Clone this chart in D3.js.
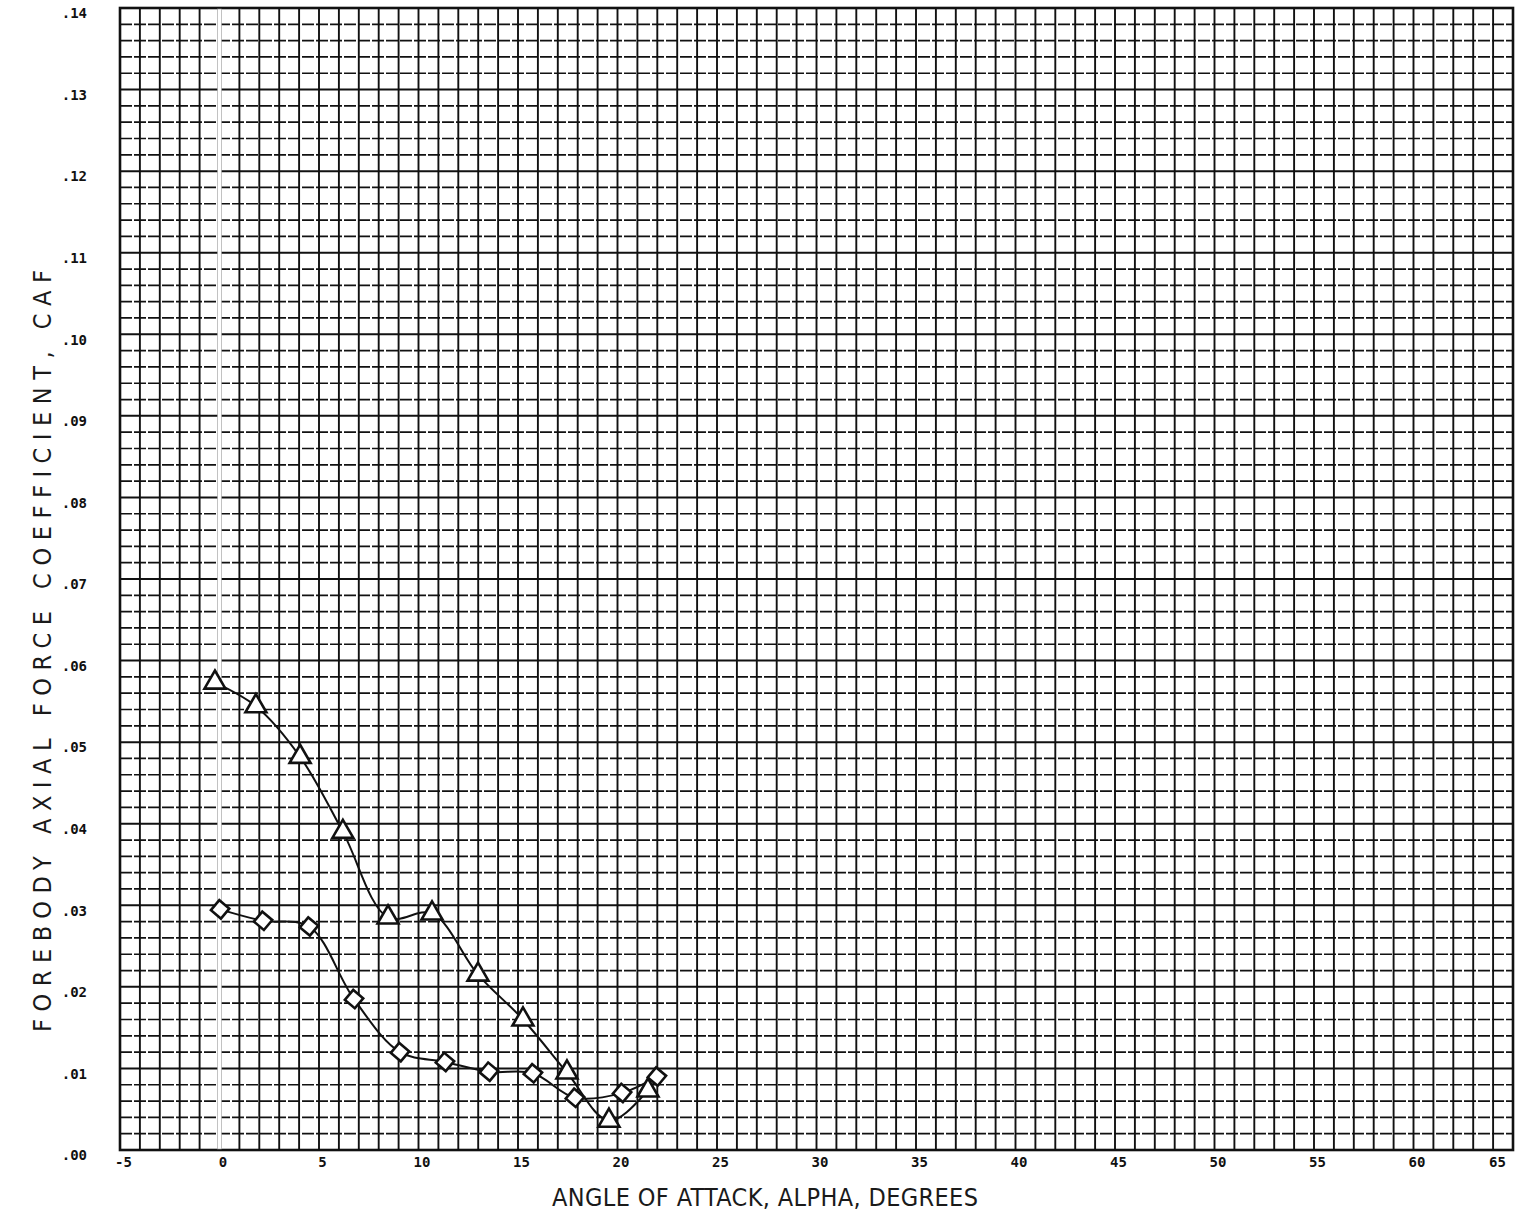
<!DOCTYPE html>
<html>
<head>
<meta charset="utf-8">
<script src="https://cdn.jsdelivr.net/npm/d3@7"></script>
<style>
  html, body { margin: 0; padding: 0; background: #fff; }
  svg { display: block; }
</style>
</head>
<body>
<svg id="chart" width="1518" height="1213"></svg>
<script>
// ---- data ----
const triAlpha = [-0.23, 1.83, 4.05, 6.2, 8.47, 10.68, 12.99, 15.25, 17.46, 19.57, 21.53, 22.0];
const triCAF   = [0.0573, 0.0544, 0.0482, 0.0390, 0.0285, 0.0290, 0.0215, 0.0160, 0.0095, 0.0036, 0.0073, 0.0089];
const diaAlpha = [0.03, 2.19, 4.5, 6.76, 9.07, 11.33, 13.54, 15.75, 17.86, 20.23, 21.98];
const diaCAF   = [0.0295, 0.0281, 0.0274, 0.0185, 0.0120, 0.0108, 0.0096, 0.0094, 0.0064, 0.0070, 0.0090];
const xTickValues = [-5, 0, 5, 10, 15, 20, 25, 30, 35, 40, 45, 50, 55, 60, 65];
const xTickLabels = ["-5", "0", "5", "10", "15", "20", "25", "30", "35", "40", "45", "50", "55", "60", "65"];
const yTickValues = [0, 0.01, 0.02, 0.03, 0.04, 0.05, 0.06, 0.07, 0.08, 0.09, 0.10, 0.11, 0.12, 0.13, 0.14];
const yTickLabels = [".00", ".01", ".02", ".03", ".04", ".05", ".06", ".07", ".08", ".09", ".10", ".11", ".12", ".13", ".14"];
const xTitle = "ANGLE OF ATTACK, ALPHA, DEGREES";
const yTitle = "FOREBODY AXIAL FORCE COEFFICIENT, CAF";

const svg = d3.select("#chart");
const L = 120, R = 1513, T = 8, B = 1150;
const x = d3.scaleLinear().domain([-5, 65]).range([L, R]);
const y = d3.scaleLinear().domain([0, 0.14]).range([B, T]);

// ---- grid ----
const grid = svg.append("g");
const vLines = d3.range(-5, 66, 1);
grid.selectAll("line.v").data(vLines).enter().append("line")
  .attr("x1", d => x(d)).attr("x2", d => x(d))
  .attr("y1", y(0.14)).attr("y2", y(0))
  .attr("stroke", "#111").attr("stroke-width", 1.9);
const hLines = d3.range(0, 71, 1).map(i => i * 0.002);
grid.selectAll("line.h").data(hLines).enter().append("line")
  .attr("x1", x(-5)).attr("x2", x(65))
  .attr("y1", d => y(d)).attr("y2", d => y(d))
  .attr("stroke", "#111")
  .attr("stroke-width", (d, i) => i % 5 === 0 ? 2.0 : 1.7)
  .attr("stroke-dasharray", (d, i) => i % 5 === 0 ? null : "12 2");
// border
grid.append("rect")
  .attr("x", x(-5)).attr("y", y(0.14))
  .attr("width", x(65) - x(-5)).attr("height", y(0) - y(0.14))
  .attr("fill", "none").attr("stroke", "#111").attr("stroke-width", 2.6);
// zero line (white band with faint edges)
grid.append("rect")
  .attr("x", x(0) - 2).attr("y", y(0.14) + 1)
  .attr("width", 4).attr("height", y(0) - y(0.14) - 2)
  .attr("fill", "#fff").attr("stroke", "#999").attr("stroke-width", 0.6);

// ---- axes (labels only) ----
const xAxis = d3.axisBottom(x).tickValues(xTickValues).tickSize(0)
  .tickFormat((d, i) => xTickLabels[i]);
const gx = svg.append("g").attr("transform", `translate(0,${B})`).call(xAxis);
gx.select(".domain").remove();
gx.selectAll("text").attr("dy", "1.0em")
  .attr("dx", (d, i) => i === xTickValues.length - 1 ? -16 : 3)
  .style("font-family", "'DejaVu Sans Mono', monospace").style("font-weight", "bold")
  .style("font-size", "14px").attr("fill", "#111");

const yAxis = d3.axisLeft(y).tickValues(yTickValues).tickSize(0)
  .tickFormat((d, i) => yTickLabels[i]);
const gy = svg.append("g").attr("transform", `translate(${L - 30},0)`).call(yAxis);
gy.select(".domain").remove();
gy.selectAll("text").attr("dy", "0.7em")
  .style("font-family", "'DejaVu Sans Mono', monospace").style("font-weight", "bold")
  .style("font-size", "14px").attr("fill", "#111");

// ---- axis titles ----
const titleFont = "'DejaVu Sans Condensed', 'DejaVu Sans', sans-serif";
svg.append("text")
  .attr("x", 552).attr("y", 1206)
  .attr("textLength", 426).attr("lengthAdjust", "spacing")
  .style("font-family", titleFont).style("font-stretch", "condensed").style("font-size", "25px")
  .attr("fill", "#1a1a1a").text(xTitle);
svg.append("text")
  .attr("transform", "translate(51,1032) rotate(-90)")
  .attr("textLength", 762).attr("lengthAdjust", "spacing")
  .style("font-family", titleFont).style("font-stretch", "condensed").style("font-size", "25px")
  .attr("fill", "#1a1a1a").text(yTitle);

// ---- series ----
const line = d3.line().x(d => x(d[0])).y(d => y(d[1])).curve(d3.curveCatmullRom.alpha(0.5));
const triData = triAlpha.map((a, i) => [a, triCAF[i]]);
const diaData = diaAlpha.map((a, i) => [a, diaCAF[i]]);

svg.append("path").datum(triData).attr("d", line)
  .attr("fill", "none").attr("stroke", "#111").attr("stroke-width", 2);
svg.append("path").datum(diaData).attr("d", line)
  .attr("fill", "none").attr("stroke", "#111").attr("stroke-width", 2);

const triSym = d3.symbol().type(d3.symbolTriangle).size(190);
svg.append("g").selectAll("path").data(triData.slice(0, 11)).enter().append("path")
  .attr("d", triSym)
  .attr("transform", d => `translate(${x(d[0])},${y(d[1])})`)
  .attr("fill", "#fff").attr("stroke", "#111").attr("stroke-width", 2.6);

const sqSym = d3.symbol().type(d3.symbolSquare).size(170);
svg.append("g").selectAll("path").data(diaData).enter().append("path")
  .attr("d", sqSym)
  .attr("transform", d => `translate(${x(d[0])},${y(d[1])}) rotate(40)`)
  .attr("fill", "#fff").attr("stroke", "#111").attr("stroke-width", 2.6);
</script>
</body>
</html>
